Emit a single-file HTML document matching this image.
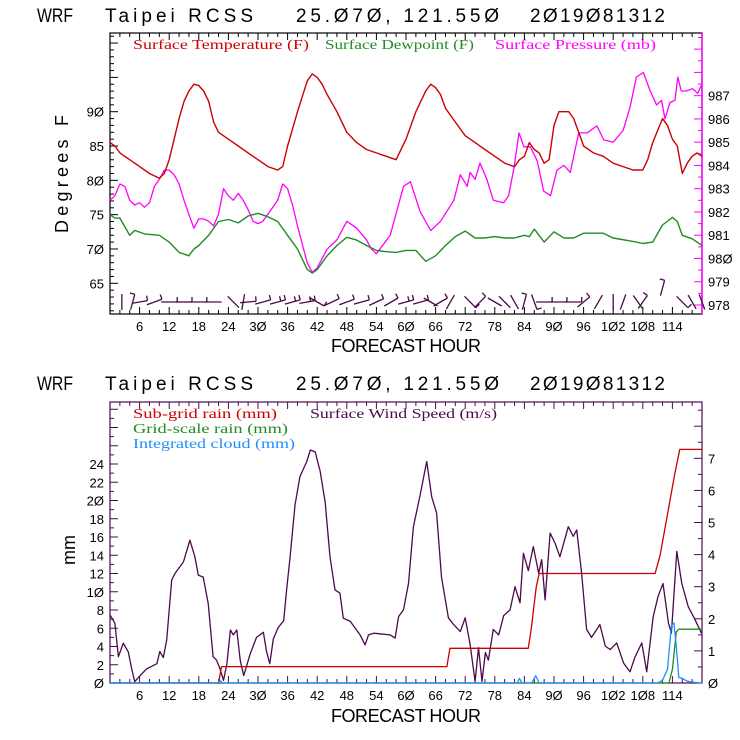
<!DOCTYPE html>
<html><head><meta charset="utf-8">
<style>
html,body{margin:0;padding:0;background:#fff;}
svg{display:block;}
.t{font-family:"Liberation Sans",sans-serif;fill:#000;}
.lg{font-family:"Liberation Serif",serif;font-size:14px;font-weight:normal;}
</style></head>
<body>
<svg id="c" width="740" height="740" viewBox="0 0 740 740" xmlns="http://www.w3.org/2000/svg">
<rect width="740" height="740" fill="#fff"/>
<g class="t" font-size="19">
<text x="37" y="22" textLength="36" lengthAdjust="spacingAndGlyphs">WRF</text>
<text x="105" y="22" textLength="148" lengthAdjust="spacing">Taipei  RCSS</text>
<text x="296" y="22" textLength="203" lengthAdjust="spacing">25.Ø7Ø, 121.55Ø</text>
<text x="530" y="22" textLength="135" lengthAdjust="spacing">2Ø19Ø81312</text>
</g>
<g class="t" font-size="19">
<text x="37" y="390" textLength="36" lengthAdjust="spacingAndGlyphs">WRF</text>
<text x="105" y="390" textLength="148" lengthAdjust="spacing">Taipei  RCSS</text>
<text x="296" y="390" textLength="203" lengthAdjust="spacing">25.Ø7Ø, 121.55Ø</text>
<text x="530" y="390" textLength="135" lengthAdjust="spacing">2Ø19Ø81312</text>
</g>
<text class="t" font-size="18" transform="translate(68,174) rotate(-90)" text-anchor="middle" textLength="118" lengthAdjust="spacing">Degrees F</text>
<text class="t" font-size="18" x="406" y="352" text-anchor="middle" textLength="150" lengthAdjust="spacing">FORECAST HOUR</text>
<text class="t" font-size="18" transform="translate(75,550) rotate(-90)" text-anchor="middle" textLength="30" lengthAdjust="spacing">mm</text>
<text class="t" font-size="18" x="406" y="722" text-anchor="middle" textLength="150" lengthAdjust="spacing">FORECAST HOUR</text>
<g class="lg">
<text x="133" y="49" fill="#cc0000" textLength="176" lengthAdjust="spacingAndGlyphs">Surface Temperature (F)</text>
<text x="325" y="49" fill="#228b22" textLength="149" lengthAdjust="spacingAndGlyphs">Surface Dewpoint (F)</text>
<text x="495" y="49" fill="#ff00ff" textLength="161" lengthAdjust="spacingAndGlyphs">Surface Pressure (mb)</text>
</g>
<g class="lg">
<text x="133" y="418" fill="#cc0000" textLength="144" lengthAdjust="spacingAndGlyphs">Sub-grid rain (mm)</text>
<text x="310" y="418" fill="#4b0a4b" textLength="187" lengthAdjust="spacingAndGlyphs">Surface Wind Speed (m/s)</text>
<text x="133" y="433" fill="#228b22" textLength="155" lengthAdjust="spacingAndGlyphs">Grid-scale rain (mm)</text>
<text x="133" y="448" fill="#1e8fff" textLength="162" lengthAdjust="spacingAndGlyphs">Integrated cloud (mm)</text>
</g>
<g id="plots"></g>
</svg>
<script>
// ---- data ----
const tempHours=[0,1,2,3,5,6,8,10,11,12,13,14,15,16,17,18,19,20,21,22,24,26,28,30,32,34,35,36,38,40,41,42,43,44,46,48,50,52,54,56,58,60,62,64,65,66,67,68,70,72,74,76,78,80,82,83,84,85,86,87,88,89,90,91,92,93,94,95,96,98,100,102,104,106,108,109,110,112,113,114,115,116,117,118,119,120];
const tempVals=[85.5,85,84,83.5,82.5,82,81,80.3,81,83,86,89,91.5,93,94,93.8,93,91.5,88.5,87,86,85,84,83,82,81.5,82,85,90,94.5,95.5,95,94,92.5,90,87,85.5,84.5,84,83.5,83,86,90,93,94,93.5,92.5,90.5,88.5,86.5,85.5,84.5,83.5,82.5,82,83,83.5,85.5,84.5,84,82.5,83,88,90,90,90,89,87,85,84,83.5,82.5,82,81.5,81.5,83,85.5,89,88,86,85,81,82.5,83.5,84,83.5];
const dewHours=[0,1,2,4,5,7,10,12,14,16,17,18,20,22,24,26,28,30,32,34,36,38,40,41,42,44,46,48,50,52,54,56,58,60,62,64,66,68,70,72,74,76,78,80,82,84,85,86,88,90,92,94,96,100,102,106,108,110,112,114,115,116,118,120];
const dewVals=[75,74.5,74.5,72,72.7,72.2,72,71,69.5,69,70,70.5,72,74,74.3,73.8,74.8,75.2,74.7,74,72,70,67,66.5,67,69,70.5,71.7,71.3,70.5,69.8,69.6,69.5,69.8,69.8,68.2,69,70.5,71.8,72.6,71.6,71.6,71.8,71.6,71.6,72,71.8,72.9,71,72.5,71.6,71.6,72.3,72.3,71.6,71.1,70.8,71,73.5,74.6,74,72,71.5,70.5];
const presHours=[0,1,2,3,4,5,6,7,8,9,10,11,12,13,14,15,16,17,18,19,20,21,22,23,24,25,26,27,28,29,30,31,32,33,34,35,36,37,38,39,40,41,42,44,46,48,50,52,53,54,56.8,59.5,60.9,62.9,65,67,69.7,71,72.4,73,74,75,76.4,77.7,79.8,80.8,81.9,82.9,83.9,85.2,86.6,87.9,89.3,90.6,92,93.3,95,96.7,98.7,100.1,102,104,105.4,106.7,108.1,109.5,110.8,111.8,112.5,113.5,114.5,115.1,115.8,116.8,118.1,119.1,120];
const presVals=[982.5,982.7,983.2,983.1,982.5,982.3,982.4,982.2,982.4,983.1,983.4,983.8,983.8,983.6,983.2,982.5,981.9,981.3,981.7,981.7,981.6,981.4,981.9,983.0,982.7,982.5,982.8,982.5,982.1,981.6,981.5,981.6,981.9,982.2,982.5,983.2,983.0,982.3,981.4,980.6,979.8,979.4,979.6,980.4,980.8,981.6,981.3,980.8,980.4,980.2,981.0,983.1,983.3,982.0,981.2,981.6,982.5,983.6,983.1,983.7,983.4,984.1,983.4,982.5,982.4,982.7,983.9,985.4,984.8,984.8,984.2,982.9,982.7,983.8,984.0,983.7,985.4,985.4,985.7,985.1,985.0,985.5,986.5,987.8,988.0,987.2,986.6,986.8,986.0,986.7,986.8,987.8,987.2,987.2,987.3,987.1,987.5];
const windHours=[0,1,1.7,2.7,3.7,4.3,5,6.1,7.4,9.5,10.1,10.8,11.5,12.5,13.2,14.9,16.2,17.2,17.9,18.9,19.9,20.9,21.6,22.3,23,23.7,24.4,25,25.7,26.4,27.1,27.7,28.4,29.7,31.1,31.7,32.4,33.1,34.1,35.2,35.8,36.5,37.5,38.5,39.9,40.6,41.6,42.6,43.6,44.6,45.6,46.6,47.3,48.7,50.7,51.7,52.4,53.5,56.8,57.8,58.5,59.5,60.5,61.5,62.8,64.2,65.2,66.2,67.2,68.6,69.6,71,72,73,74,74.7,75.4,76.1,76.7,77.7,78.8,79.8,81.1,82.1,83.1,83.8,84.8,85.8,86.9,87.5,88.2,89.2,90.2,91.2,92.9,93.9,94.6,95.6,96.6,97.6,99.3,100.4,101.4,102.7,104.1,105.4,106.4,107.8,108.8,110.1,111.1,112.1,113.2,113.8,114.9,115.9,117.2,118.5,119.9];
const windVals=[2.12,1.86,0.82,1.24,0.97,0.51,0.04,0.23,0.44,0.6,0.98,0.79,1.34,3.21,3.42,3.78,4.45,3.93,3.36,3.3,2.48,0.82,0.71,0.44,0.08,0.6,1.65,1.5,1.65,0.71,0.23,0.54,0.9,1.42,1.58,1.0,0.6,1.37,1.73,1.94,2.9,3.93,5.54,6.43,6.9,7.26,7.2,6.59,5.65,3.93,2.9,2.8,2.02,1.92,1.5,1.19,1.5,1.55,1.5,1.4,2.07,2.28,3.1,4.87,5.8,6.9,5.8,5.3,3.3,2.03,1.83,1.6,2.03,1.2,0.05,1.1,0.05,0.95,0.71,1.67,1.5,2.1,2.28,3.0,2.5,4.04,3.5,4.25,3.42,3.84,2.59,4.67,4.36,3.93,4.87,4.57,4.77,3.42,1.67,1.42,1.82,1.15,1.04,1.25,0.62,0.35,0.8,1.25,0.35,2.07,2.7,3.1,1.86,1.55,4.1,3.1,2.38,2.0,1.55];
const subHours=[0,22,22.6,68.3,68.9,84.8,85.4,86.4,87,110.5,111.5,113,114.5,115.5,120];
const subVals=[0,0,1.8,1.8,3.8,3.8,6,10.5,12,12,14,18.5,23,25.6,25.6];
const gridHours=[0,113.3,114,114.8,115.3,120];
const gridVals=[0,0,1.5,5.6,5.9,5.9];
const cloudHours=[0,21.8,22.3,22.8,82.5,83,83.5,85.5,86.3,87,111,112,113,113.8,114.3,114.8,115.3,116,117,118,120];
const cloudVals=[0,0,0.3,0,0,0.5,0,0,0.8,0,0,0.3,1.5,6.3,6.6,4,0.6,0.5,0.2,0.1,0];
const barbHours=[2.4,4.6,6,9,12,15,18,21,25,27,28,31,34,37,40,42,45,48,51,54,57,60,63,65,67,69,73,75,78,80,82,84,86,88,91,94,96,99,102,104,107,108,112,116,118,120];
const barbAngles=[90,75,10,20,0,0,0,0,-45,80,5,15,15,15,10,-30,25,20,15,25,30,15,15,-30,30,60,-45,45,-30,-45,-60,75,-70,0,0,0,40,60,90,70,-55,55,75,-45,-60,-70];
const barbTicks=[0,1,1,1,1,1,1,0,0,0,1,1,2,2,2,1,1,1,1,1,1,2,1,0,1,0,1,1,0,0,0,1,1,1,1,1,1,0,0,0,0,1,1,1,0,0];
const xTicks=[6,12,18,24,30,36,42,48,54,60,66,72,78,84,90,96,102,108,114];
const tempTicks=[65,70,75,80,85,90];
const presTicks=[978,979,980,981,982,983,984,985,986,987];
const mmTicks=[0,2,4,6,8,10,12,14,16,18,20,22,24];
const windTicks=[0,1,2,3,4,5,6,7];

// ---- axes ----
const X0=110,X1=702,HMAX=120;
const xs=h=>X0+h*(X1-X0)/HMAX;
const T0=33,T1=314;
const yT=v=>111.7+(90-v)*6.864;
const yP=p=>305-(p-978)*23.26;
const B0=402,B1=683;
const yM=v=>683-v*9.125;
const yW=w=>683-w*32.1;

const NS="http://www.w3.org/2000/svg";
const root=document.getElementById('plots');
function mk(tag,attrs,parent){const e=document.createElementNS(NS,tag);for(const k in attrs)e.setAttribute(k,attrs[k]);(parent||root).appendChild(e);return e;}
function fmt(n){return String(n).replace(/0/g,'Ø');}

function line(hours,vals,yf,color,name,w){
  const pts=hours.map((h,i)=>xs(h).toFixed(1)+','+yf(vals[i]).toFixed(1)).join(' ');
  const p=mk('polyline',{points:pts,fill:'none',stroke:color,'stroke-width':w||1.3,'stroke-linejoin':'round'});
  
  
}
function frame(top,bot,color,name){
  const r=mk('rect',{x:X0,y:top,width:X1-X0,height:bot-top,fill:'none',stroke:color,'stroke-width':1.2});
  
  
  const g=mk('g',{stroke:color,'stroke-width':1});
  
  
  for(let h=2;h<HMAX;h+=2){const L=(h%6===0)?7:4;
    mk('line',{x1:xs(h),x2:xs(h),y1:bot,y2:bot-L},g);
    mk('line',{x1:xs(h),x2:xs(h),y1:top,y2:top+L},g);}
  const lg=mk('g',{class:'t','font-size':13,'text-anchor':'middle'});
  
  
  xTicks.forEach(h=>{const t=mk('text',{x:xs(h),y:bot+17},lg);t.textContent=fmt(h);});
}

// top panel
frame(T0,T1,'#000','top-plot-frame');
mk('line',{x1:X1,x2:X1,y1:T0,y2:T1,stroke:'#ff00ff','stroke-width':1.5});
const tl=mk('g',{stroke:'#000'});


for(let v=61;v<=101;v++){const L=v%5===0?8:4;mk('line',{x1:X0,x2:X0+L,y1:yT(v),y2:yT(v)},tl);}
const tlab=mk('g',{class:'t','font-size':13,'text-anchor':'end'});


tempTicks.forEach(v=>{const t=mk('text',{x:104,y:yT(v)+5},tlab);t.textContent=fmt(v);});
const pl=mk('g',{stroke:'#ff00ff'});


for(let p=978;p<=989.5;p+=0.5){const L=(p%1===0)?8:4;mk('line',{x1:X1,x2:X1-L,y1:yP(p),y2:yP(p)},pl);}
const plab=mk('g',{class:'t','font-size':13});


presTicks.forEach(v=>{const t=mk('text',{x:708,y:yP(v)+5},plab);t.textContent=fmt(v);});

line(presHours,presVals,yP,'#ff00ff','pressure-line',1.3);
line(dewHours,dewVals,yT,'#228b22','dewpoint-line',1.4);
line(tempHours,tempVals,yT,'#cc0000','temperature-line',1.4);

// wind barbs
const bg=mk('g',{stroke:'#4b0a4b','stroke-width':1.3,fill:'none'});


barbHours.forEach((h,i)=>{
  const a=barbAngles[i]*Math.PI/180,L=16;
  const cx=xs(h),cy=h>110&&h<114?288:302;
  const dx=Math.cos(a)*L/2,dy=-Math.sin(a)*L/2;
  const x1=cx-dx,y1=cy-dy,x2=cx+dx,y2=cy+dy;
  const b=mk('line',{x1:x1,y1:y1,x2:x2,y2:y2},bg);
  
  
  for(let k=0;k<barbTicks[i];k++){
    const f=1-k*0.3;const px=x1+(x2-x1)*f,py=y1+(y2-y1)*f;
    mk('line',{x1:px,y1:py,x2:px+Math.sin(a)*-5,y2:py-Math.cos(a)*5},bg);
  }
});

// bottom panel
frame(B0,B1,'#4b0a4b','bottom-plot-frame');
const ml=mk('g',{stroke:'#4b0a4b'});


for(let v=1;v<=30;v++){const y=yM(v);if(y<B0)break;const L=v%2===0?8:4;mk('line',{x1:X0,x2:X0+L,y1:y,y2:y},ml);}
const mlab=mk('g',{class:'t','font-size':13,'text-anchor':'end'});


mmTicks.forEach(v=>{const t=mk('text',{x:104,y:yM(v)+5},mlab);t.textContent=fmt(v);});
const wl=mk('g',{stroke:'#4b0a4b'});


for(let w=0.5;w<=8.5;w+=0.5){const y=yW(w);if(y<B0)break;const L=(w%1===0)?8:4;mk('line',{x1:X1,x2:X1-L,y1:y,y2:y},wl);}
const wlab=mk('g',{class:'t','font-size':13});


windTicks.forEach(v=>{const t=mk('text',{x:708,y:yW(v)+5},wlab);t.textContent=fmt(v);});

line(windHours,windVals,yW,'#4b0a4b','wind-speed-line',1.3);
line(subHours,subVals,yM,'#cc0000','subgrid-rain-line',1.3);
line(gridHours,gridVals,yM,'#228b22','grid-rain-line',1.3);
line(cloudHours,cloudVals,yM,'#1e8fff','cloud-line',1.3);
</script>
</body></html>
